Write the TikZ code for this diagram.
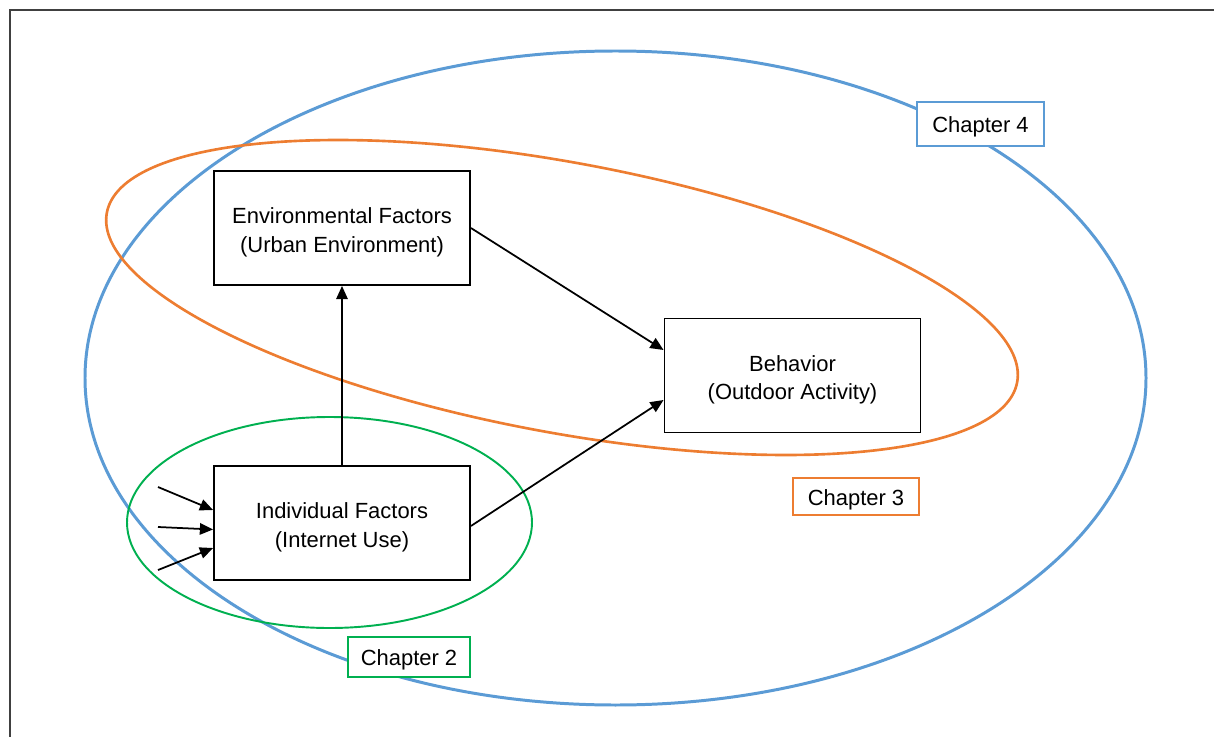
\documentclass[tikz,border=0pt]{standalone}
\usepackage{fontspec}
\setmainfont{Liberation Sans}
\usepackage{xcolor}
\usepackage{tikz}
\usetikzlibrary{arrows.meta}
\definecolor{chfour}{HTML}{5B9BD5}
\definecolor{chthree}{HTML}{ED7D31}
\definecolor{chtwo}{HTML}{00B050}
\definecolor{framegray}{HTML}{404040}
\newcommand{\topstrut}{\rule{0pt}{14pt}}
\tikzset{
  factor/.style={draw, line width=1.1pt, fill=white, inner sep=0pt,
    minimum width=5.12cm, minimum height=2.28cm, align=center,
    font=\fontsize{12.5}{16}\selectfont},
  chapter/.style={draw, line width=1.1pt, fill=white, inner sep=0pt,
    font=\fontsize{12.5}{15}\selectfont,
    execute at begin node={\rule{0pt}{12.5pt}}},
  link/.style={line width=1pt, -{Triangle[length=7.5pt,width=6.5pt]}},
}

\begin{document}
\begin{tikzpicture}[x=0.02cm,y=-0.02cm]
    \useasboundingbox (0,0) rectangle (1214,737);
    \draw[framegray, line width=1.2pt] (10,737) -- (10,10) -- (1214,10);
    \draw[chfour, line width=1.7pt] (615.5,378) ellipse [x radius=530.5, y radius=327];
    \draw[chthree, line width=1.5pt, rotate around={-10.55:(562,297.5)}]
      (562,297.5) ellipse [x radius=463, y radius=135];
    \draw[chtwo, line width=1.1pt] (329.5,522.5) ellipse [x radius=202.5, y radius=105.5];
    \node[factor] (env) at (342,228) {\topstrut Environmental Factors\\(Urban Environment)};
    \node[factor] (beh) at (792.5,375.5) {\topstrut Behavior\\(Outdoor Activity)};
    \node[factor] (ind) at (342,523) {\topstrut Individual Factors\\(Internet Use)};
    \node[chapter, draw=chfour, minimum width=2.54cm, minimum height=0.88cm] (ch4) at (980.5,124) {Chapter 4};
    \node[chapter, draw=chthree, minimum width=2.52cm, minimum height=0.74cm] (ch3) at (856,496.5) {Chapter 3};
    \node[chapter, draw=chtwo, minimum width=2.44cm, minimum height=0.8cm] (ch2) at (409,657) {Chapter 2};
    \coordinate (in1) at (158,487);
    \coordinate (in2) at (158,527);
    \coordinate (in3) at (158,570);
    \draw[link] (in1) to (ind.west |- 0,510);
    \draw[link] (in2) to (ind.west |- 0,529.5);
    \draw[link] (in3) to (ind.west |- 0,548);
    \draw[link] (ind.north) to (env.south);
    \draw[link] (env.east |- 0,228) to (beh.west |- 0,350);
    \draw[link] (ind.east |- 0,526) to (beh.west |- 0,400);
  \end{tikzpicture}
\end{document}
